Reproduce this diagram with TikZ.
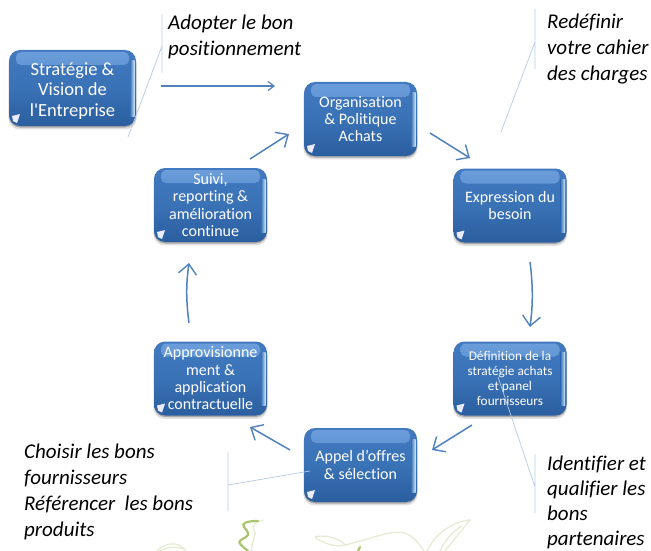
\documentclass[tikz,border=0pt]{standalone}
\usepackage{fontspec}
\setmainfont[Ligatures=NoCommon]{Carlito}
\usetikzlibrary{arrows.meta,shadows,calc}
\definecolor{boxtop}{HTML}{4279C0}
\definecolor{boxmid}{HTML}{3A72B6}
\definecolor{boxbot}{HTML}{2A5E9F}
\definecolor{bandtop}{HTML}{6B9EDA}
\definecolor{bandbot}{HTML}{4279C0}
\definecolor{edgelight}{HTML}{CFE8FB}
\definecolor{arrowblue}{HTML}{4F81BD}
\definecolor{calloutblue}{HTML}{B4CBE6}
\definecolor{leafdark}{HTML}{A9C46C}
\definecolor{leaflight}{HTML}{E4EBD0}
\tikzset{
  glossy/.style={
    rectangle, rounded corners=11pt, inner sep=0pt, align=center, text=white,
    top color=boxtop, bottom color=boxbot, middle color=boxmid,
    general shadow={shadow yshift=-3pt, fill=black, opacity=.12, shadow scale=1.01},
    general shadow={shadow yshift=-1.5pt, fill=black, opacity=.25},
    path picture={
      \path[rounded corners=5pt, top color=bandtop, bottom color=bandbot]
        ([xshift=7pt,yshift=-2pt]path picture bounding box.north west) rectangle
        ([xshift=-7pt,yshift=-15pt]path picture bounding box.north east);
      \path[sharp corners, left color=boxmid, right color=edgelight]
        ([xshift=-6pt,yshift=-11pt]path picture bounding box.north east) rectangle
        ([xshift=-1.5pt,yshift=10pt]path picture bounding box.south east);
      \fill[sharp corners, white!92!blue]
        ([xshift=3pt,yshift=10pt]path picture bounding box.south west) --
        ([xshift=11pt,yshift=12pt]path picture bounding box.south west) --
        ([xshift=8pt,yshift=3pt]path picture bounding box.south west) --
        ([xshift=4pt,yshift=5pt]path picture bounding box.south west) -- cycle;
    }},
  stdbox/.style={glossy, minimum width=113pt, minimum height=74pt, font=\fontsize{16}{17.3}\selectfont},
  note/.style={anchor=north west, inner sep=0pt, align=left, font=\fontsize{21}{26}\selectfont\itshape, text=black},
  flow/.style={draw=arrowblue, line width=1.5pt, -{Straight Barb[length=10pt,width=18pt,line width=1.4pt]}},
  longflow/.style={draw=arrowblue, line width=1.5pt, -{Straight Barb[length=6pt,width=9pt,line width=1.2pt]}},
  callout/.style={draw=calloutblue, line width=.7pt},
  leaf/.style={draw=leaflight, line width=1.2pt, line cap=round, fill=none},
}
\begin{document}
\begin{tikzpicture}[x=1pt,y=-1pt]
\useasboundingbox (0,0) rectangle (651,551);
% flourish
\begin{scope}
\clip (0,0) rectangle (651,551);
\draw[leaf] (263,520) .. controls (256,522) and (252,524) .. (254,530) .. controls (258,536) and (250,540) .. (252,552);
\draw[leaf] (157,551) .. controls (165,543) and (178,540) .. (186,551);
\draw[leaf] (160,551) .. controls (168,547) and (176,546) .. (184,549);
\draw[leaf] (315,537) .. controls (330,533) and (345,543) .. (345,545) .. controls (335,548) and (320,542) .. (315,537);
\draw[leaf] (345,545) .. controls (375,538) and (395,528) .. (407,534) .. controls (415,538) and (420,545) .. (424,551);
\draw[leaf] (470,520) .. controls (450,522) and (435,535) .. (427,551);
\draw[leaf] (470,520) .. controls (462,530) and (452,542) .. (445,551);
\draw[leaf] (440,551) .. controls (445,540) and (452,532) .. (462,526);
\draw[draw=leafdark, line width=2.2pt, line cap=round] (258,521) .. controls (247,521) and (241,523) .. (244,527) .. controls (248,532) and (250,534) .. (246,537) .. controls (241,540) and (237,541) .. (241,545) -- (248,551);
\draw[draw=leafdark, line width=2.2pt, line cap=round] (358,551) -- (360,547);
\end{scope}
% boxes
\node[glossy, minimum width=127pt, minimum height=76pt, font=\fontsize{18.5}{20.5}\selectfont] (strat) at (72.5,88) {\rule{0pt}{18pt}Stratégie \&\\Vision de\\l\textquotesingle Entreprise};
\node[stdbox] (org) at (360.5,119) {Organisation\\\&{} Politique\\Achats};
\node[stdbox] (expr) at (510,205.5) {Expression du\\besoin};
\node[stdbox, font=\fontsize{13.3}{15}\selectfont] (defn) at (510,378.5) {Définition de la\\stratégie achats\\et panel\\fournisseurs};
\node[stdbox] (appel) at (360.5,465) {Appel d’offres\\\&{} sélection};
\node[stdbox] (appro) at (210.5,378.5) {Approvisionne\\ment \&\\application\\contractuelle};
\node[stdbox] (suivi) at (210.5,205) {Suivi,\\reporting \&\\amélioration\\continue};
% notes
\node[note] (n1) at (168,15) {Adopter le bon\\positionnement};
\node[note] (n2) at (547,13.5) {Redéfinir\\votre cahier\\des charges};
\node[note] (n3) at (24,443.5) {Choisir les bons\\fournisseurs\\Référencer\ \ les bons\\produits};
\node[note, font=\fontsize{21}{25}\selectfont\itshape] (n4) at (547,456) {Identifier et\\qualifier les\\bons\\partenaires};
% arrow ends
\coordinate (a1s) at (161,86); \coordinate (a1e) at (275,86);
\coordinate (a2s) at (250,159); \coordinate (a2e) at (289,134);
\coordinate (a3s) at (430,133); \coordinate (a3e) at (470,158);
\coordinate (a4s) at (530,262); \coordinate (a4e) at (530,327);
\coordinate (a5s) at (472,425); \coordinate (a5e) at (432,450);
\coordinate (a6s) at (290,450); \coordinate (a6e) at (250,427);
\coordinate (a7s) at (189,323); \coordinate (a7e) at (189,263);
\draw[longflow] (a1s) -- (a1e);
\draw[flow] (a2s) -- (a2e);
\draw[flow] (a3s) -- (a3e);
\draw[flow] (a4s) .. controls (533,285) and (533,305) .. (a4e);
\draw[flow] (a5s) -- (a5e);
\draw[flow] (a6s) -- (a6e);
\draw[flow] (a7s) .. controls (186,300) and (186,285) .. (a7e);
% callouts
\coordinate (c1a) at (162,14); \coordinate (c1b) at (162,73); \coordinate (c1m) at (162,46); \coordinate (c1t) at (128,137);
\coordinate (c2a) at (535,9); \coordinate (c2b) at (535,69); \coordinate (c2m) at (535,42); \coordinate (c2t) at (501,132);
\coordinate (c3a) at (228,452); \coordinate (c3b) at (228,511); \coordinate (c3m) at (228,485); \coordinate (c3t) at (310,471);
\coordinate (c4a) at (535,454); \coordinate (c4b) at (535,513); \coordinate (c4m) at (535,487); \coordinate (c4t) at (498,377);
\draw[callout] (c1a) -- (c1b) (c1m) -- (c1t);
\draw[callout] (c2a) -- (c2b) (c2m) -- (c2t);
\draw[callout] (c3a) -- (c3b) (c3m) -- (c3t);
\draw[callout] (c4a) -- (c4b) (c4m) -- (c4t);
\end{tikzpicture}
\end{document}
